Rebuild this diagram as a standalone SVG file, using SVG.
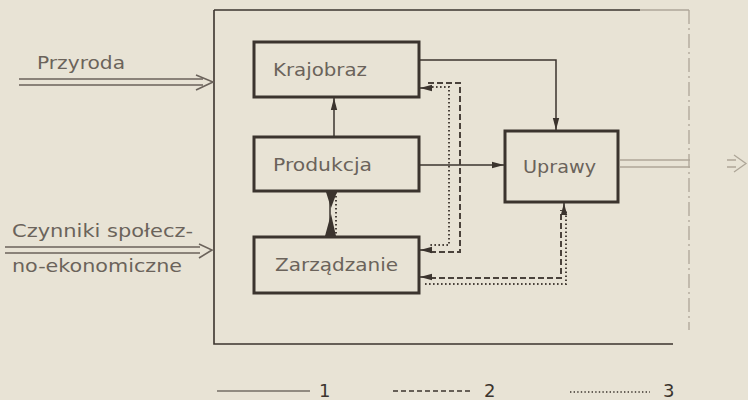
<svg xmlns="http://www.w3.org/2000/svg" width="748" height="400" viewBox="0 0 748 400">
  <defs>
    <marker id="head" viewBox="0 0 12 8" refX="12" refY="4" markerWidth="12" markerHeight="8" markerUnits="userSpaceOnUse" orient="auto">
      <path d="M0,0.8 L12,4 L0,7.2 Z" fill="#3b342e"/>
    </marker>
  </defs>
  <style>
    .bg { fill: #e8e3d5; }
    .box { fill: none; stroke: #3b342e; stroke-width: 3; }
    .frame { fill: none; stroke: #3b342e; stroke-width: 1.6; }
    .faint { fill: none; stroke: #aea698; stroke-width: 1.3; }
    .solid { fill: none; stroke: #3b342e; stroke-width: 1.5; }
    .dash { fill: none; stroke: #4a423b; stroke-width: 2; stroke-dasharray: 6 3; }
    .dot { fill: none; stroke: #4a423b; stroke-width: 2; stroke-dasharray: 1.6 2.4; }
    .dbl { fill: none; stroke: #6b635b; stroke-width: 1.6; }
    .head { fill: #3b342e; }
    .lbl { font-family: "DejaVu Sans", sans-serif; font-size: 18.5px; fill: #6b635b; }
    .leg { font-family: "DejaVu Sans", sans-serif; font-size: 18px; fill: #3b342e; }
  </style>

  <rect class="bg" x="0" y="0" width="748" height="400"/>

  <!-- system boundary -->
  <g id="boundary">
    <path class="frame" d="M214,10 V344 H673"/>
    <path class="frame" d="M214,10 H640"/>
    <path class="faint" d="M640,10 H689"/>
    <path class="faint" d="M689,10 V330" stroke-dasharray="14 4 2 4"/>
  </g>

  <!-- input: nature -->
  <g id="input-przyroda">
    <text class="lbl" x="37" y="69" textLength="88" lengthAdjust="spacingAndGlyphs">Przyroda</text>
    <path class="dbl" d="M19,79 H203 M19,85 H203"/>
    <path class="dbl" d="M196,75 L213,82 L196,90"/>
  </g>

  <!-- input: socio-economic factors -->
  <g id="input-czynniki">
    <text class="lbl" x="12" y="237" textLength="181" lengthAdjust="spacingAndGlyphs">Czynniki społecz-</text>
    <path class="dbl" d="M5,247 H200 M5,253 H200"/>
    <path class="dbl" d="M199,244 L212,250 L199,258"/>
    <text class="lbl" x="12" y="272" textLength="170" lengthAdjust="spacingAndGlyphs">no-ekonomiczne</text>
  </g>

  <g id="krajobraz">
    <rect class="box" x="254" y="42" width="165" height="55"/>
    <text class="lbl" x="273" y="76" textLength="94" lengthAdjust="spacingAndGlyphs">Krajobraz</text>
  </g>

  <g id="produkcja">
    <rect class="box" x="254" y="137" width="165" height="54"/>
    <text class="lbl" x="273" y="171" textLength="99" lengthAdjust="spacingAndGlyphs">Produkcja</text>
  </g>

  <g id="zarzadzanie">
    <rect class="box" x="254" y="237" width="165" height="56"/>
    <text class="lbl" x="275" y="271" textLength="123" lengthAdjust="spacingAndGlyphs">Zarządzanie</text>
  </g>

  <g id="uprawy">
    <rect class="box" x="505" y="131" width="113" height="71"/>
    <text class="lbl" x="523" y="173" textLength="73" lengthAdjust="spacingAndGlyphs">Uprawy</text>
  </g>

  <!-- output -->
  <g id="output">
    <path class="faint" d="M620,160 H690 M620,167 H690"/>
    <path class="faint" d="M727,160 H736 M727,167 H736 M734,155 L746,163.5 L734,172" stroke-width="1.6"/>
  </g>

  <g id="connectors">
    <!-- flows (1) -->
    <path class="solid" d="M334,137 V98" marker-end="url(#head)"/>
    <path class="solid" d="M420,60 H556 V130" marker-end="url(#head)"/>
    <path class="solid" d="M420,165 H504" marker-end="url(#head)"/>

    <!-- Produkcja / Zarządzanie link -->
    <path class="solid" d="M330,192 V236"/>
    <path class="dot" d="M336,192 V236"/>
    <path class="head" d="M326,192 H337 L331,208 Z"/>
    <path class="head" d="M331,214 L336,236 H325 Z"/>

    <!-- feedback to Krajobraz and Zarządzanie -->
    <path class="dash" d="M428,83 H460 V252 H428"/>
    <path class="dot" d="M428,87 H449 V245 H428"/>
    <path class="solid" d="M430,88 H420" marker-end="url(#head)"/>
    <path class="solid" d="M430,250 H420" marker-end="url(#head)"/>

    <!-- feedback between Uprawy and Zarządzanie -->
    <path class="dash" d="M430,278 H561 V210"/>
    <path class="dot" d="M425,284 H566 V210"/>
    <path class="solid" d="M564,214 V203" marker-end="url(#head)"/>
    <path class="solid" d="M432,277 H420" marker-end="url(#head)"/>
  </g>

  <!-- legend -->
  <g id="legend">
    <path d="M217,391 H310" stroke="#3b342e" stroke-width="1.2"/>
    <text class="leg" x="319" y="397">1</text>
    <path d="M393,391 H473" stroke="#3b342e" stroke-width="1.4" stroke-dasharray="5 3"/>
    <text class="leg" x="484" y="397">2</text>
    <path d="M570,392 H650" stroke="#3b342e" stroke-width="1.4" stroke-dasharray="1.4 2.2"/>
    <text class="leg" x="663" y="397">3</text>
  </g>
</svg>
